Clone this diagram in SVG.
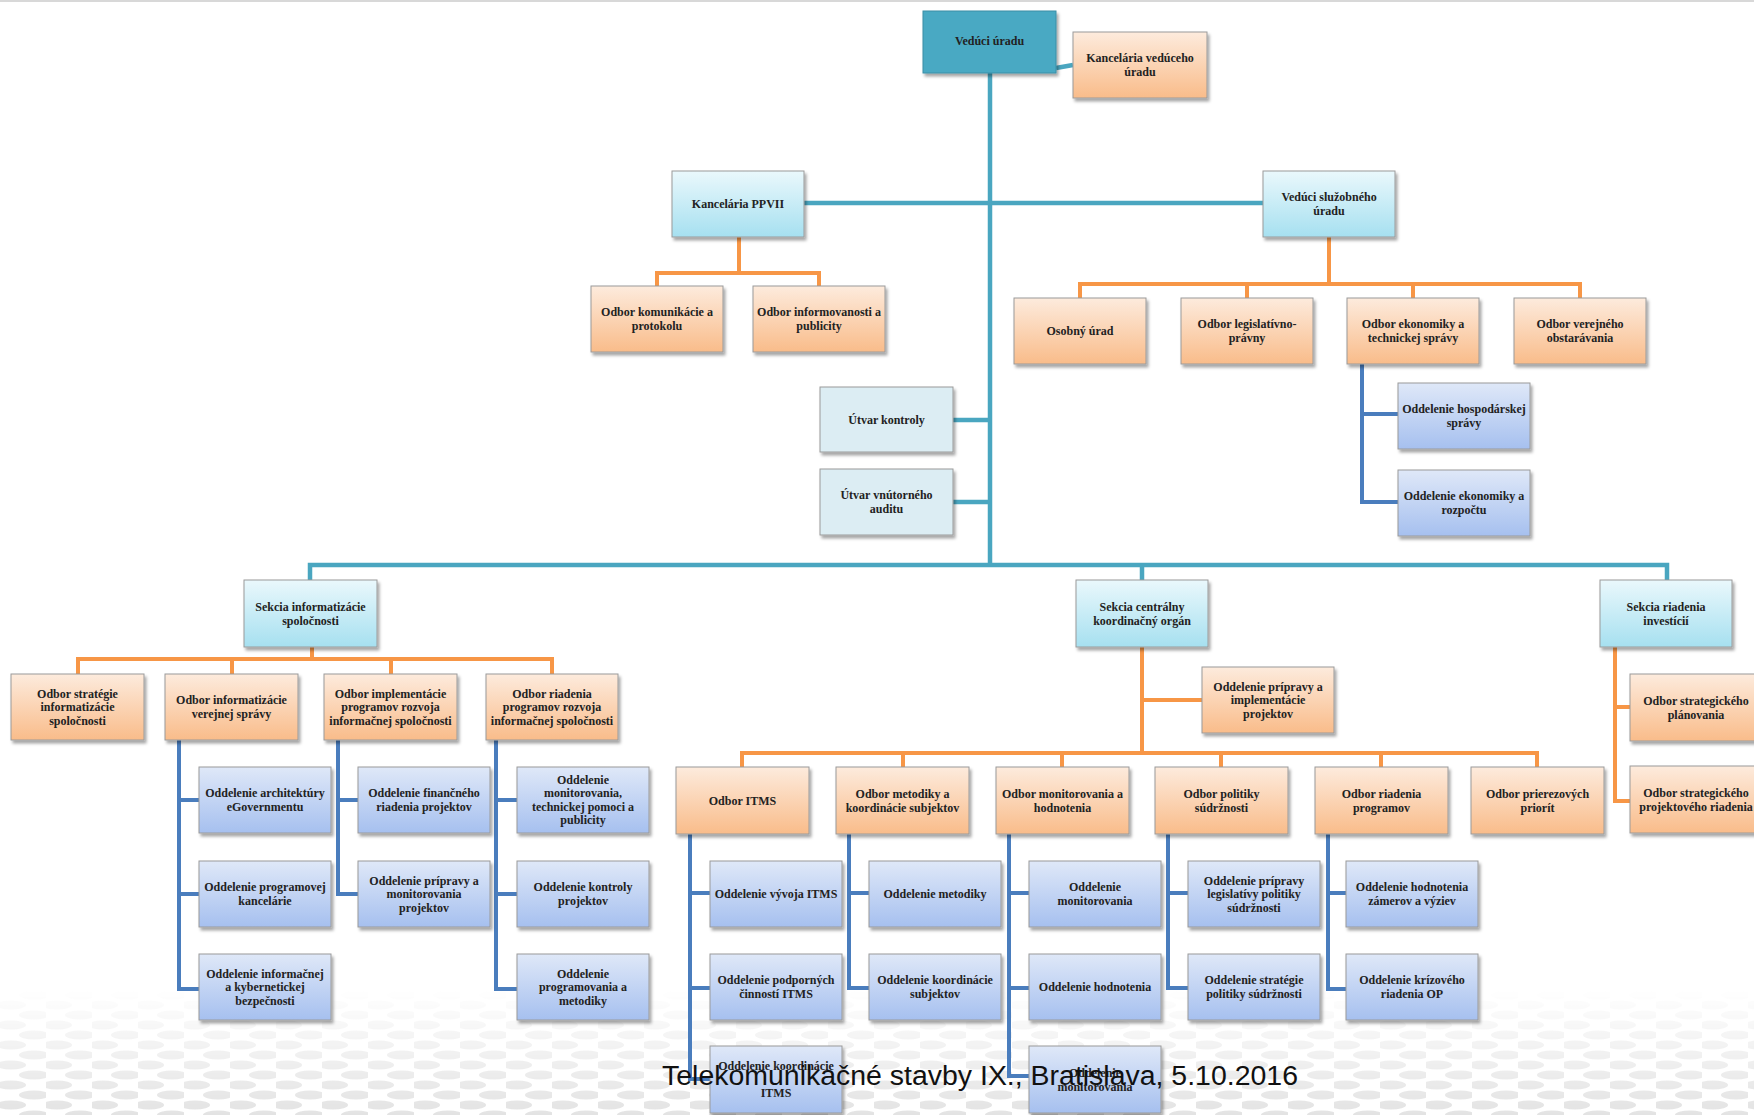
<svg xmlns="http://www.w3.org/2000/svg" width="1754" height="1115" viewBox="0 0 1754 1115">
<defs>
<linearGradient id="gCyan" x1="0" y1="0" x2="0" y2="1"><stop offset="0" stop-color="#eaf8fc"/><stop offset="1" stop-color="#a6e0f0"/></linearGradient>
<linearGradient id="gOrange" x1="0" y1="0" x2="0" y2="1"><stop offset="0" stop-color="#fdebdd"/><stop offset="1" stop-color="#f9bc8a"/></linearGradient>
<linearGradient id="gBlue" x1="0" y1="0" x2="0" y2="1"><stop offset="0" stop-color="#dfe8f8"/><stop offset="1" stop-color="#a6c0ef"/></linearGradient>
<linearGradient id="gFade" x1="0" y1="0" x2="0" y2="1"><stop offset="0" stop-color="#fff" stop-opacity="0"/><stop offset="1" stop-color="#fff" stop-opacity="1"/></linearGradient>
<pattern id="dots" width="46" height="20" patternUnits="userSpaceOnUse"><ellipse cx="11" cy="5" rx="15" ry="4.5" fill="#e3e3e3"/><ellipse cx="34" cy="15" rx="15" ry="4.5" fill="#e3e3e3"/></pattern>
<mask id="fadeMask"><rect x="0" y="990" width="1754" height="125" fill="url(#gFade)"/></mask>
<filter id="sh" x="-10%" y="-10%" width="130%" height="145%"><feDropShadow dx="2" dy="3" stdDeviation="1.5" flood-color="#000" flood-opacity="0.35"/></filter>
</defs>
<style>
.box rect{stroke:#9a9a9a;stroke-width:1;filter:url(#sh)}
.cyan rect{fill:url(#gCyan)}
.orange rect{fill:url(#gOrange)}
.blue rect{fill:url(#gBlue)}
.light rect{fill:#dcedf3}
.top rect{fill:#4aa9c3;stroke:#3a8ea6}
.box text{font-family:"Liberation Serif","Times New Roman",serif;font-size:12px;font-weight:bold;fill:#222;text-anchor:middle}
.con path{fill:none;stroke-linejoin:miter;stroke-linecap:butt}
.teal{stroke:#4aa6c0;stroke-width:4.5}
.org{stroke:#f79646;stroke-width:4}
.blu{stroke:#4a7dbd;stroke-width:4}
.footer{font-family:"Liberation Sans",Arial,sans-serif;font-size:27px;fill:#111}
</style>
<rect x="0" y="0" width="1754" height="1115" fill="#ffffff"/>
<rect x="0" y="0" width="1754" height="2" fill="#d8d8d8"/>
<rect x="0" y="990" width="1754" height="125" fill="url(#dots)" mask="url(#fadeMask)"/>

<g id="connectors" class="con">
<path class="teal" d="M990,73 V565 M1056,68 L1073,65 M804,203 H1263 M953,420 H990 M953,502 H990 M310,580 V565 H1667 V580 M1142,565 V580"/>
<path class="org" d="M739,237 V273 M657,286 V273 H819 V286 M1329,237 V284 M1080,298 V284 H1580 V298 M1247,284 V298 M1413,284 V298 M312,647 V659 M78,674 V659 H552 V674 M232,659 V674 M391,659 V674 M1142,647 V753 M1142,700 H1202 M742,767 V753 H1537 V767 M903,753 V767 M1062,753 V767 M1221,753 V767 M1381,753 V767 M1615,647 V801 H1630 M1615,707 H1630"/>
<path class="blu" d="M1362,364 V502 H1398 M1362,414 H1398 M179,740 V989 H199 M179,800 H199 M179,894 H199 M338,740 V894 H358 M338,800 H358 M496,740 V989 H517 M496,800 H517 M496,894 H517 M690,834 V1079 H710 M690,893 H710 M690,988 H710 M849,834 V988 H869 M849,893 H869 M1009,834 V1076 H1029 M1009,893 H1029 M1009,988 H1029 M1168,834 V988 H1188 M1168,893 H1188 M1328,834 V989 H1346 M1328,893 H1346"/>
</g>

<g id="n_veduci_uradu" class="box top"><rect x="923" y="11" width="133" height="62"/><text x="989.5" y="45">Vedúci úradu</text></g>
<g id="n_kancelaria_veduceho" class="box orange"><rect x="1073" y="32" width="134" height="66"/><text x="1140" y="62"><tspan x="1140">Kancelária vedúceho</tspan><tspan x="1140" dy="13.5">úradu</tspan></text></g>
<g id="n_kancelaria_ppvii" class="box cyan"><rect x="672" y="171" width="132" height="66"/><text x="738" y="208">Kancelária PPVII</text></g>
<g id="n_veduci_sluzobneho" class="box cyan"><rect x="1263" y="171" width="132" height="66"/><text x="1329" y="201"><tspan x="1329">Vedúci služobného</tspan><tspan x="1329" dy="13.5">úradu</tspan></text></g>
<g id="n_komunikacie" class="box orange"><rect x="591" y="286" width="132" height="66"/><text y="316"><tspan x="657">Odbor komunikácie a</tspan><tspan x="657" dy="13.5">protokolu</tspan></text></g>
<g id="n_informovanosti" class="box orange"><rect x="753" y="286" width="132" height="66"/><text y="316"><tspan x="819">Odbor informovanosti a</tspan><tspan x="819" dy="13.5">publicity</tspan></text></g>
<g id="n_osobny" class="box orange"><rect x="1014" y="298" width="132" height="66"/><text x="1080" y="335">Osobný úrad</text></g>
<g id="n_legislativno" class="box orange"><rect x="1181" y="298" width="132" height="66"/><text y="328"><tspan x="1247">Odbor legislatívno-</tspan><tspan x="1247" dy="13.5">právny</tspan></text></g>
<g id="n_ekonomiky" class="box orange"><rect x="1347" y="298" width="132" height="66"/><text y="328"><tspan x="1413">Odbor ekonomiky a</tspan><tspan x="1413" dy="13.5">technickej správy</tspan></text></g>
<g id="n_verejneho" class="box orange"><rect x="1514" y="298" width="132" height="66"/><text y="328"><tspan x="1580">Odbor verejného</tspan><tspan x="1580" dy="13.5">obstarávania</tspan></text></g>
<g id="n_utvar_kontroly" class="box light"><rect x="820" y="387" width="133" height="65"/><text x="886.5" y="423.5">Útvar kontroly</text></g>
<g id="n_utvar_auditu" class="box light"><rect x="820" y="469" width="133" height="66"/><text y="499"><tspan x="886.5">Útvar vnútorného</tspan><tspan x="886.5" dy="13.5">auditu</tspan></text></g>
<g id="n_hospodarskej" class="box blue"><rect x="1398" y="383" width="132" height="66"/><text y="413"><tspan x="1464">Oddelenie hospodárskej</tspan><tspan x="1464" dy="13.5">správy</tspan></text></g>
<g id="n_rozpoctu" class="box blue"><rect x="1398" y="470" width="132" height="66"/><text y="500"><tspan x="1464">Oddelenie ekonomiky a</tspan><tspan x="1464" dy="13.5">rozpočtu</tspan></text></g>

<g id="n_sekcia_informatizacie" class="box cyan"><rect x="244" y="580" width="133" height="67"/><text y="611"><tspan x="310.5">Sekcia informatizácie</tspan><tspan x="310.5" dy="13.5">spoločnosti</tspan></text></g>
<g id="n_sekcia_cko" class="box cyan"><rect x="1076" y="580" width="132" height="67"/><text y="611"><tspan x="1142">Sekcia centrálny</tspan><tspan x="1142" dy="13.5">koordinačný orgán</tspan></text></g>
<g id="n_sekcia_investicii" class="box cyan"><rect x="1600" y="580" width="132" height="67"/><text y="611"><tspan x="1666">Sekcia riadenia</tspan><tspan x="1666" dy="13.5">investícií</tspan></text></g>

<g id="n_strategie_info" class="box orange"><rect x="11" y="674" width="133" height="66"/><text y="697.5"><tspan x="77.5">Odbor stratégie</tspan><tspan x="77.5" dy="13.5">informatizácie</tspan><tspan x="77.5" dy="13.5">spoločnosti</tspan></text></g>
<g id="n_info_verejnej" class="box orange"><rect x="165" y="674" width="133" height="66"/><text y="704"><tspan x="231.5">Odbor informatizácie</tspan><tspan x="231.5" dy="13.5">verejnej správy</tspan></text></g>
<g id="n_implementacie" class="box orange"><rect x="324" y="674" width="133" height="66"/><text y="697.5"><tspan x="390.5">Odbor implementácie</tspan><tspan x="390.5" dy="13.5">programov rozvoja</tspan><tspan x="390.5" dy="13.5">informačnej spoločnosti</tspan></text></g>
<g id="n_riadenia_rozvoja" class="box orange"><rect x="486" y="674" width="132" height="66"/><text y="697.5"><tspan x="552">Odbor riadenia</tspan><tspan x="552" dy="13.5">programov rozvoja</tspan><tspan x="552" dy="13.5">informačnej spoločnosti</tspan></text></g>
<g id="n_pripravy_impl" class="box orange"><rect x="1202" y="667" width="132" height="66"/><text y="690.5"><tspan x="1268">Oddelenie prípravy a</tspan><tspan x="1268" dy="13.5">implementácie</tspan><tspan x="1268" dy="13.5">projektov</tspan></text></g>
<g id="n_strat_planovania" class="box orange"><rect x="1630" y="674" width="132" height="67"/><text y="705"><tspan x="1696">Odbor strategického</tspan><tspan x="1696" dy="13.5">plánovania</tspan></text></g>
<g id="n_strat_projektoveho" class="box orange"><rect x="1630" y="766" width="132" height="67"/><text y="797"><tspan x="1696">Odbor strategického</tspan><tspan x="1696" dy="13.5">projektového riadenia</tspan></text></g>

<g id="n_architektury" class="box blue"><rect x="199" y="767" width="132" height="66"/><text y="797"><tspan x="265">Oddelenie architektúry</tspan><tspan x="265" dy="13.5">eGovernmentu</tspan></text></g>
<g id="n_programovej" class="box blue"><rect x="199" y="861" width="132" height="66"/><text y="891"><tspan x="265">Oddelenie programovej</tspan><tspan x="265" dy="13.5">kancelárie</tspan></text></g>
<g id="n_kyber" class="box blue"><rect x="199" y="954" width="132" height="66"/><text y="977.5"><tspan x="265">Oddelenie informačnej</tspan><tspan x="265" dy="13.5">a kybernetickej</tspan><tspan x="265" dy="13.5">bezpečnosti</tspan></text></g>
<g id="n_financneho" class="box blue"><rect x="358" y="767" width="132" height="66"/><text y="797"><tspan x="424">Oddelenie finančného</tspan><tspan x="424" dy="13.5">riadenia projektov</tspan></text></g>
<g id="n_pripravy_mon" class="box blue"><rect x="358" y="861" width="132" height="66"/><text y="884.5"><tspan x="424">Oddelenie prípravy a</tspan><tspan x="424" dy="13.5">monitorovania</tspan><tspan x="424" dy="13.5">projektov</tspan></text></g>
<g id="n_mon_tech" class="box blue"><rect x="517" y="767" width="132" height="66"/><text y="783.8"><tspan x="583">Oddelenie</tspan><tspan x="583" dy="13.5">monitorovania,</tspan><tspan x="583" dy="13.5">technickej pomoci a</tspan><tspan x="583" dy="13.5">publicity</tspan></text></g>
<g id="n_kontroly_proj" class="box blue"><rect x="517" y="861" width="132" height="66"/><text y="891"><tspan x="583">Oddelenie kontroly</tspan><tspan x="583" dy="13.5">projektov</tspan></text></g>
<g id="n_prog_metodiky" class="box blue"><rect x="517" y="954" width="132" height="66"/><text y="977.5"><tspan x="583">Oddelenie</tspan><tspan x="583" dy="13.5">programovania a</tspan><tspan x="583" dy="13.5">metodiky</tspan></text></g>

<g id="n_odbor_itms" class="box orange"><rect x="676" y="767" width="133" height="67"/><text x="742.5" y="804.5">Odbor ITMS</text></g>
<g id="n_metodiky_koord" class="box orange"><rect x="836" y="767" width="133" height="67"/><text y="798"><tspan x="902.5">Odbor metodiky a</tspan><tspan x="902.5" dy="13.5">koordinácie subjektov</tspan></text></g>
<g id="n_mon_hodn" class="box orange"><rect x="996" y="767" width="133" height="67"/><text y="798"><tspan x="1062.5">Odbor monitorovania a</tspan><tspan x="1062.5" dy="13.5">hodnotenia</tspan></text></g>
<g id="n_politiky" class="box orange"><rect x="1155" y="767" width="133" height="67"/><text y="798"><tspan x="1221.5">Odbor politiky</tspan><tspan x="1221.5" dy="13.5">súdržnosti</tspan></text></g>
<g id="n_riadenia_prog" class="box orange"><rect x="1315" y="767" width="133" height="67"/><text y="798"><tspan x="1381.5">Odbor riadenia</tspan><tspan x="1381.5" dy="13.5">programov</tspan></text></g>
<g id="n_prierezovych" class="box orange"><rect x="1471" y="767" width="133" height="67"/><text y="798"><tspan x="1537.5">Odbor prierezových</tspan><tspan x="1537.5" dy="13.5">priorít</tspan></text></g>

<g id="n_vyvoja_itms" class="box blue"><rect x="710" y="861" width="132" height="66"/><text x="776" y="898">Oddelenie vývoja ITMS</text></g>
<g id="n_podpornych" class="box blue"><rect x="710" y="954" width="132" height="66"/><text y="984"><tspan x="776">Oddelenie podporných</tspan><tspan x="776" dy="13.5">činností ITMS</tspan></text></g>
<g id="n_koord_itms" class="box blue"><rect x="710" y="1046" width="132" height="67"/><text y="1070"><tspan x="776">Oddelenie koordinácie</tspan><tspan x="776" dy="27">ITMS</tspan></text></g>
<g id="n_odd_metodiky" class="box blue"><rect x="869" y="861" width="132" height="66"/><text x="935" y="898">Oddelenie metodiky</text></g>
<g id="n_koord_subj" class="box blue"><rect x="869" y="954" width="132" height="66"/><text y="984"><tspan x="935">Oddelenie koordinácie</tspan><tspan x="935" dy="13.5">subjektov</tspan></text></g>
<g id="n_odd_mon" class="box blue"><rect x="1029" y="861" width="132" height="66"/><text y="891"><tspan x="1095">Oddelenie</tspan><tspan x="1095" dy="13.5">monitorovania</tspan></text></g>
<g id="n_odd_hodn" class="box blue"><rect x="1029" y="954" width="132" height="66"/><text x="1095" y="991">Oddelenie hodnotenia</text></g>
<g id="n_odd_mon2" class="box blue"><rect x="1029" y="1046" width="132" height="67"/><text y="1077"><tspan x="1095">Oddelenie</tspan><tspan x="1095" dy="13.5">monitorovania</tspan></text></g>
<g id="n_prip_legis" class="box blue"><rect x="1188" y="861" width="132" height="66"/><text y="884.5"><tspan x="1254">Oddelenie prípravy</tspan><tspan x="1254" dy="13.5">legislatívy politiky</tspan><tspan x="1254" dy="13.5">súdržnosti</tspan></text></g>
<g id="n_strat_pol" class="box blue"><rect x="1188" y="954" width="132" height="66"/><text y="984"><tspan x="1254">Oddelenie stratégie</tspan><tspan x="1254" dy="13.5">politiky súdržnosti</tspan></text></g>
<g id="n_hodn_zamerov" class="box blue"><rect x="1346" y="861" width="132" height="66"/><text y="891"><tspan x="1412">Oddelenie hodnotenia</tspan><tspan x="1412" dy="13.5">zámerov a výziev</tspan></text></g>
<g id="n_krizoveho" class="box blue"><rect x="1346" y="954" width="132" height="66"/><text y="984"><tspan x="1412">Oddelenie krízového</tspan><tspan x="1412" dy="13.5">riadenia OP</tspan></text></g>

<text class="footer" x="662" y="1085" textLength="636" lengthAdjust="spacingAndGlyphs">Telekomunikačné stavby IX., Bratislava, 5.10.2016</text>
</svg>
